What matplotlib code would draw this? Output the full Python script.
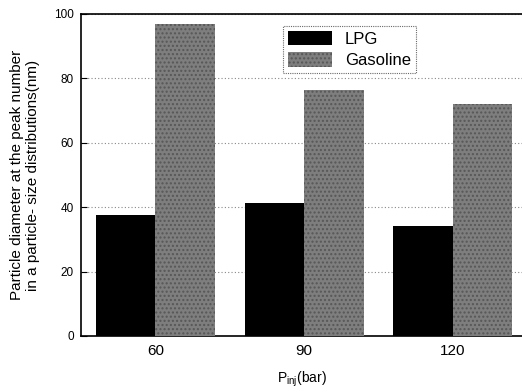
import matplotlib
matplotlib.use("Agg")
import matplotlib.pyplot as plt
import numpy as np

plt.rcParams['font.family'] = ['Liberation Sans', 'DejaVu Sans']

categories = ['60', '90', '120']
lpg = [37.6, 41.3, 34.2]
gasoline = [97.0, 76.3, 72.0]

fig = plt.figure(figsize=(5.22, 3.92), dpi=100)
ax = fig.add_axes([81/522, 1-336/392, (522-81)/522, (336-14)/392])

x = np.arange(len(categories))
w = 0.4
ax.bar(x - w/2, lpg, w, color='black', label='LPG', zorder=3)
ax.bar(x + w/2, gasoline, w, color='#7e7e7e', hatch='....', edgecolor='#575757',
       linewidth=0, label='Gasoline', zorder=3)

ax.set_xlim(-0.5, 2.465)
ax.set_ylim(0, 100)
ax.set_xticks(x)
ax.set_xticklabels(categories, fontsize=11)
ax.set_yticks([0, 20, 40, 60, 80, 100])
ax.tick_params(axis='y', direction='in', length=4, labelsize=8.5, pad=5)
ax.tick_params(axis='x', length=0, labelsize=11, pad=6)
ax.yaxis.grid(True, linestyle=(0, (1, 2)), color='#888888', linewidth=0.8, zorder=0)
ax.spines['right'].set_visible(False)
for s in ['left', 'top', 'bottom']:
    ax.spines[s].set_linewidth(1.2)

ax.set_ylabel('Particle diameter at the peak number\nin a particle- size distributions(nm)', fontsize=11, labelpad=10)
ax.set_xlabel(r'P$_{\mathregular{inj}}$(bar)', fontsize=10, labelpad=8)

leg = ax.legend(loc='upper left', bbox_to_anchor=(0.44, 0.99), fontsize=12,
                frameon=True, fancybox=False, handlelength=2.6, handleheight=1.0,
                borderpad=0.3, labelspacing=0.3, handletextpad=0.8)
leg.get_frame().set_edgecolor('#444444')
leg.get_frame().set_linestyle((0, (1, 1)))
leg.get_frame().set_linewidth(0.8)

fig.savefig('out.png', dpi=100)
